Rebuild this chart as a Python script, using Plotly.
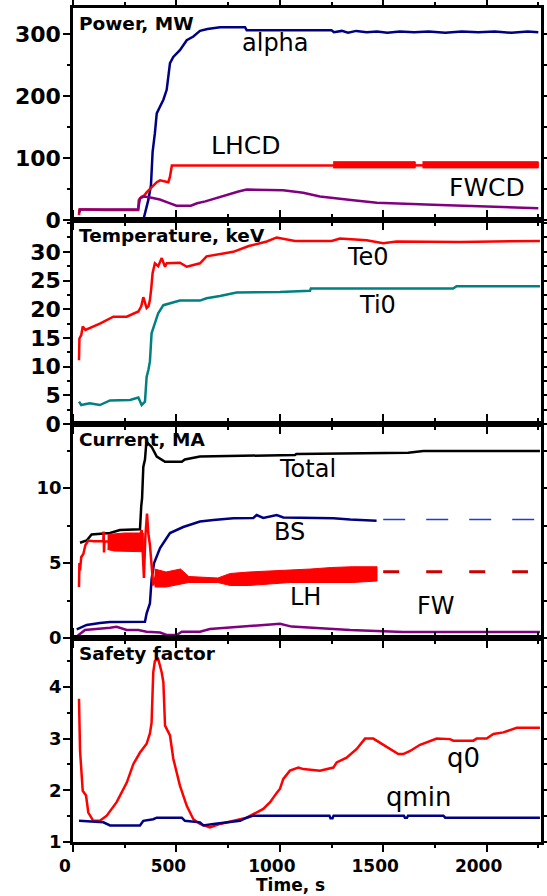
import plotly.graph_objects as go
from plotly.subplots import make_subplots

# ---------------- data (time in s) ----------------
alpha_t = [340, 364, 377, 385, 396, 405, 421, 437, 453, 469, 485, 517, 550, 582, 614, 650, 711, 832, 840,
           1250, 1262, 1300, 1330, 1370, 1420, 1470, 1520, 1580, 1650, 1720, 1800, 1880, 1960, 2040, 2120, 2200, 2250]
alpha_p = [0, 32, 56, 110, 140, 172, 183, 194, 210, 253, 263, 274, 290, 296, 305, 308, 311, 311, 306,
           306, 303, 305, 302, 305, 303, 304, 302, 304, 303, 304, 302, 304, 303, 304, 302, 304, 303]

lhcd_t = [29, 31, 60, 160, 315, 318, 330, 345, 357, 372, 388, 405, 421, 461, 469, 478, 1258, 2250]
lhcd_p = [8, 17, 17, 16, 16, 32, 37, 40, 45, 50, 54, 61, 64, 61, 70, 88, 88, 88.5]
lhcd_band_t = [[1258, 1655], [1690, 2250]]
lhcd_band_lo = [[84, 84], [84, 84]]
lhcd_band_hi = [[94, 94], [94, 94]]

fwcd_t = [29, 35, 100, 200, 315, 324, 345, 380, 420, 460, 500, 570, 600, 640, 680, 720, 760, 800, 840,
          1000, 1016, 1113, 1194, 1355, 1469, 1775, 2195, 2250]
fwcd_p = [11, 17, 17, 17, 17, 35, 38, 36, 33, 28, 23, 23, 27, 30, 34, 39, 43, 46, 49,
          49, 48, 44, 38, 32, 28, 24, 19, 19]

te_t = [29, 31, 40, 47, 60, 130, 195, 260, 316, 330, 340, 356, 365, 372, 378, 385, 396, 412, 429, 437, 445,
        453, 517, 550, 614, 646, 700, 775, 850, 937, 985, 1073, 1251, 1291, 1420, 1500, 1565, 1871, 2258]
te_v = [11.1, 14.9, 15.5, 17.0, 16.4, 17.5, 18.7, 18.7, 19.6, 20.5, 22.1, 20.2, 20.5, 21.6, 23.5, 26.3, 28.0,
        27.5, 28.9, 28.2, 27.4, 28.0, 28.1, 27.4, 28.0, 29.2, 29.5, 30.0, 31.0, 31.8, 32.5, 31.9, 31.9, 32.3,
        32.0, 31.5, 31.8, 31.7, 31.9]

ti_t = [29, 40, 80, 130, 179, 276, 316, 332, 348, 356, 365, 372, 380, 396, 412, 437, 469, 517, 614, 646, 711,
        791, 1001, 1146, 1150, 1838, 1855, 2258]
ti_v = [3.9, 3.3, 3.6, 3.3, 4.1, 4.2, 4.6, 3.3, 3.9, 8.2, 9.5, 10.9, 15.8, 17.5, 19.3, 20.7, 21.0, 21.5, 21.5,
        21.9, 22.3, 22.9, 23.0, 23.2, 23.6, 23.6, 24.0, 24.0]

tot_t = [34, 66, 90, 179, 227, 324, 330, 334, 340, 348, 353, 356, 368, 380, 405, 445, 526, 541, 614, 1073,
         1080, 1621, 1694, 2258]
tot_i = [6.35, 6.5, 6.9, 7.0, 7.2, 7.25, 8.8, 9.3, 11.4, 11.9, 12.75, 13.1, 12.9, 12.75, 12.1, 11.75, 11.75,
         11.9, 12.1, 12.2, 12.27, 12.35, 12.47, 12.47]

bs_t = [18, 66, 130, 179, 348, 356, 372, 380, 392, 421, 445, 469, 533, 614, 679, 775, 872, 888, 920, 985,
        1017, 1259, 1340, 1468]
bs_i = [0.58, 0.87, 1.0, 1.07, 1.09, 1.64, 2.3, 3.9, 5.0, 6.0, 6.5, 7.0, 7.4, 7.76, 7.87, 7.98, 8.0, 8.2,
        8.0, 8.2, 8.04, 7.98, 7.9, 7.82]
bs_ext_t = [1500, 2230]
bs_ext_i = [7.9, 7.9]

lh_t = [29, 31, 34, 40, 50, 60, 74, 100, 147, 148, 150, 152, 200, 300, 320, 332, 343, 350, 358, 364, 372,
        380, 388, 400, 421, 453, 501, 550, 614, 775, 937, 1114, 1275, 1470]
lh_i = [3.4, 5.0, 4.5, 5.4, 5.6, 6.2, 6.5, 6.45, 6.45, 7.1, 5.7, 6.45, 6.4, 6.4, 6.6, 7.2, 4.0, 6.8, 8.3,
        7.0, 6.2, 5.0, 3.5, 4.1, 4.0, 3.65, 4.3, 3.87, 3.8, 3.87, 4.1, 4.27, 4.42, 4.5]
lh_band_t = [[167, 200, 250, 300, 340],
             [395, 450, 520, 560, 700, 760, 850, 950, 1050, 1150, 1250, 1350, 1470]]
lh_band_lo = [[5.9, 5.8, 5.8, 5.75, 5.75],
              [3.4, 3.4, 3.6, 3.7, 3.7, 3.5, 3.5, 3.6, 3.7, 3.7, 3.7, 3.7, 3.8]]
lh_band_hi = [[6.9, 6.95, 7.0, 7.0, 7.0],
              [4.6, 4.4, 4.6, 4.1, 4.0, 4.3, 4.4, 4.45, 4.5, 4.6, 4.7, 4.75, 4.75]]
lh_ext_t = [1500, 2200]
lh_ext_i = [4.42, 4.42]

fw_t = [18, 58, 179, 211, 260, 316, 356, 421, 453, 501, 526, 614, 662, 808, 888, 1001, 1057, 1340, 1597, 2258]
fw_i = [0.1, 0.53, 0.69, 0.75, 0.53, 0.53, 0.42, 0.36, 0.2, 0.2, 0.42, 0.42, 0.6, 0.75, 0.87, 0.95, 0.76,
        0.53, 0.4, 0.4]

q0_t = [29, 34, 47, 63, 74, 98, 130, 163, 211, 260, 292, 324, 356, 372, 380, 388, 396, 412, 429, 437, 445,
        469, 485, 517, 550, 582, 614, 662, 711, 775, 840, 920, 953, 985, 1001, 1017, 1049, 1090, 1114, 1194,
        1259, 1275, 1323, 1372, 1412, 1452, 1485, 1533, 1573, 1597, 1630, 1678, 1726, 1759, 1823, 1839, 1936,
        1952, 2000, 2033, 2081, 2113, 2146, 2258]
q0_v = [3.77, 2.77, 1.99, 1.9, 1.57, 1.41, 1.41, 1.51, 1.77, 2.15, 2.51, 2.73, 2.9, 3.1, 3.31, 4.28, 4.5,
        4.54, 4.28, 4.09, 3.25, 3.06, 2.61, 2.09, 1.7, 1.44, 1.35, 1.28, 1.35, 1.41, 1.47, 1.64, 1.77, 1.95,
        2.03, 2.22, 2.38, 2.44, 2.41, 2.38, 2.44, 2.54, 2.63, 2.8, 3.0, 3.0, 2.92, 2.8, 2.7, 2.7, 2.76, 2.88,
        2.96, 3.0, 2.99, 2.96, 2.96, 3.0, 3.0, 3.09, 3.12, 3.17, 3.21, 3.21]

qm_t = [29, 147, 179, 324, 340, 388, 405, 526, 541, 614, 630, 679, 808, 840, 872, 1240, 1245, 1255, 1260,
        1600, 1605, 1615, 1620, 1791, 1800, 2258]
qm_v = [1.41, 1.38, 1.32, 1.32, 1.41, 1.44, 1.47, 1.47, 1.41, 1.38, 1.32, 1.35, 1.41, 1.47, 1.51, 1.51,
        1.46, 1.46, 1.51, 1.51, 1.47, 1.47, 1.51, 1.51, 1.47, 1.47]

panel_titles = ["Power, MW", "Temperature, keV", "Current, MA", "Safety factor"]
x_ticks = [0, 500, 1000, 1500, 2000]
y_ticks = [[0, 100, 200, 300], [0, 5, 10, 15, 20, 25, 30], [0, 5, 10], [1, 2, 3, 4]]

# ---------------- colours ----------------
NAVY = "#000080"
RED = "#FF0000"
PURPLE = "#800080"
TEAL = "#008080"
BLACK = "#000000"
LW = 2.5


def band_xy(ts, los, his):
    xs, ys = [], []
    for t, lo, hi in zip(ts, los, his):
        if xs:
            xs.append(None)
            ys.append(None)
        xs += t + t[::-1]
        ys += hi + lo[::-1]
    return xs, ys


fig = make_subplots(rows=4, cols=1, shared_xaxes=True, vertical_spacing=0)


def line(t, v, color, row, width=LW, dash=None):
    fig.add_trace(go.Scatter(x=t, y=v, mode="lines",
                             line=dict(color=color, width=width, dash=dash),
                             showlegend=False, hoverinfo="skip"), row=row, col=1)


def band(ts, los, his, color, row):
    bx, by = band_xy(ts, los, his)
    fig.add_trace(go.Scatter(x=bx, y=by, mode="lines", fill="toself", fillcolor=color,
                             line=dict(color=color, width=1), showlegend=False,
                             hoverinfo="skip"), row=row, col=1)


# Panel 1
line(alpha_t, alpha_p, NAVY, 1)
line(lhcd_t, lhcd_p, RED, 1)
band(lhcd_band_t, lhcd_band_lo, lhcd_band_hi, RED, 1)
line(fwcd_t, fwcd_p, PURPLE, 1)
# Panel 2
line(te_t, te_v, RED, 2)
line(ti_t, ti_v, TEAL, 2)
# Panel 3
line(tot_t, tot_i, BLACK, 3)
line(bs_t, bs_i, NAVY, 3)
line(bs_ext_t, bs_ext_i, "#1a3fd6", 3, width=1.5, dash="22px,21px")
band(lh_band_t, lh_band_lo, lh_band_hi, RED, 3)
line(lh_t, lh_i, RED, 3)
line(lh_ext_t, lh_ext_i, "#CC0000", 3, width=3, dash="16px,27px")
line(fw_t, fw_i, PURPLE, 3)
# Panel 4
line(q0_t, q0_v, RED, 4)
line(qm_t, qm_v, NAVY, 4)

# ---------------- layout ----------------
H = 834.0
heights = [212, 204, 214, 204]
tops = []
acc = 0
for h in heights:
    tops.append((1 - acc / H, 1 - (acc + h) / H))
    acc += h

yranges = [[0, 212 / 0.62], [0, 204 / 5.74], [0, 214 / 15.0], [1, 1 + 204 / 51.7]]
yminor = [50, 2.5, 2.5, 0.5]
yfont = [22, 22, 18, 18]

axis_common = dict(showline=True, linecolor="black", linewidth=2.5, mirror="ticks",
                   ticks="outside", ticklen=7, tickwidth=2, tickcolor="black",
                   showgrid=False, zeroline=False, automargin=False)

for i in range(4):
    top, bot = tops[i]
    fig.update_yaxes(row=i + 1, col=1, domain=[bot, top], range=yranges[i],
                     tickvals=y_ticks[i],
                     minor=dict(dtick=yminor[i], tick0=0, ticks="outside", ticklen=3, tickwidth=2,
                                tickcolor="black"),
                     tickfont=dict(family="DejaVu Sans", size=yfont[i], color="black", weight="bold"),
                     ticklabelstandoff=-2, **axis_common)
    fig.update_xaxes(row=i + 1, col=1, range=[0, 468 / 0.2068], tickvals=x_ticks,
                     minor=dict(dtick=250, tick0=0, ticks="outside", ticklen=3, tickwidth=2,
                                tickcolor="black"),
                     tickfont=dict(family="DejaVu Sans", size=17, color="black", weight="bold"),
                     ticklabelshift=-8, **axis_common)

annotations = []
yrefs = ["y domain", "y2 domain", "y3 domain", "y4 domain"]
for i, ttl in enumerate(panel_titles):
    annotations.append(dict(text=ttl, xref="x domain", yref=yrefs[i], x=0.008, y=1,
                            xanchor="left", yanchor="top", yshift=-3, showarrow=False,
                            font=dict(family="DejaVu Sans", size=18.5, color="black", weight="bold")))

labels = [
    ("alpha", 977, 281, "x", "y", 24),
    ("LHCD", 832, 116, "x", "y", 25),
    ("FWCD", 2002, 48, "x", "y", 25),
    ("Te0", 1427, 28.6, "x2", "y2", 24),
    ("Ti0", 1470, 20.2, "x2", "y2", 24),
    ("Total", 1136, 11.07, "x3", "y3", 24),
    ("BS", 1049, 6.87, "x3", "y3", 24),
    ("LH", 1122, 2.53, "x3", "y3", 24),
    ("FW", 1755, 1.93, "x3", "y3", 24),
    ("q0", 1886, 2.57, "x4", "y4", 26),
    ("qmin", 1673, 1.81, "x4", "y4", 26),
]
for txt, x, y, xr, yr, fs in labels:
    annotations.append(dict(text=txt, x=x, y=y, xref=xr, yref=yr, showarrow=False,
                            xanchor="center", yanchor="middle", yshift=3,
                            font=dict(family="DejaVu Sans", size=fs, color="black")))

annotations.append(dict(text="Time, s", xref="paper", yref="paper", x=(290 - 73) / 468.0, y=0,
                        xanchor="center", yanchor="middle", yshift=-43, showarrow=False,
                        font=dict(family="DejaVu Sans", size=17, color="black", weight="bold")))

fig.update_layout(width=547, height=896, margin=dict(l=73, r=6, t=8, b=54, autoexpand=False),
                  paper_bgcolor="white", plot_bgcolor="white", showlegend=False,
                  annotations=annotations)

fig.write_html("out.html")
